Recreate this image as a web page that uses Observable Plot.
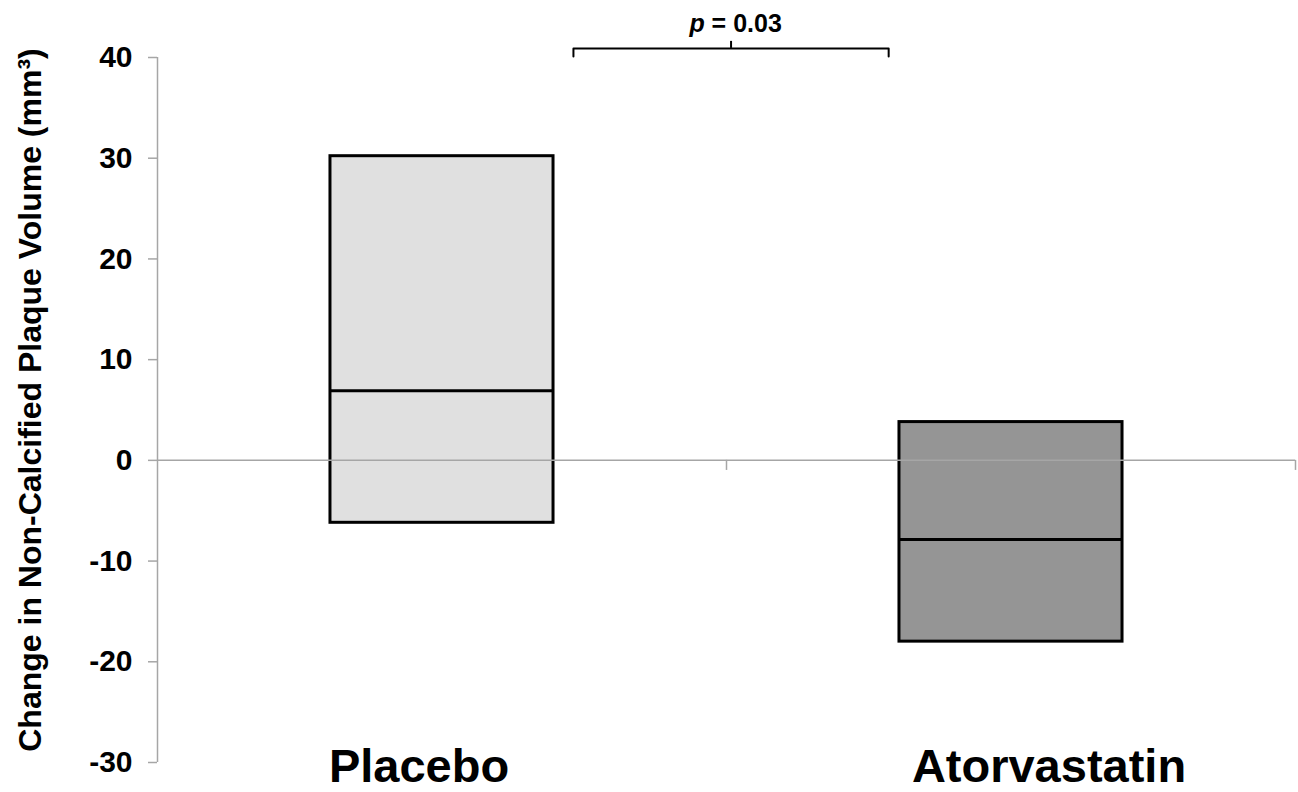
<!DOCTYPE html>
<html>
<head>
<meta charset="utf-8">
<script src="https://cdn.jsdelivr.net/npm/d3@7"></script>
<script src="https://cdn.jsdelivr.net/npm/@observablehq/plot@0.6"></script>
<style>
  html, body { margin: 0; padding: 0; background: #fff; }
  svg { font-family: "Liberation Sans", Arial, sans-serif; }
</style>
</head>
<body>
<div id="chart"></div>
<script>
// ---- data ----
const categories = ["Placebo", "Atorvastatin"];
const lowerQuartile = [-6.2, -18.0];
const medianValue = [6.9, -7.85];
const upperQuartile = [30.2, 3.8];
const fills = ["#e0e0e0", "#959595"];
const yTicks = [-30, -20, -10, 0, 10, 20, 30, 40];
const yTitle = "Change in Non-Calcified Plaque Volume (mm³)";
const pLabel = "p = 0.03";
const boundaries = [1, 2];

const rows = categories.map((c, i) => ({
  cat: c, i, q1: lowerQuartile[i], med: medianValue[i], q3: upperQuartile[i], fill: fills[i]
}));

const half = 0.196; // box half-width in category units
const axisGray = "#a6a6a6";
const font = "Liberation Sans, Arial, sans-serif";

const chart = Plot.plot({
  width: 1298,
  height: 792,
  marginLeft: 157,
  marginRight: 3,
  marginTop: 57,
  marginBottom: 30,
  style: { fontFamily: font, background: "#fff", overflow: "visible" },
  x: { domain: [0, 2], axis: null },
  y: { domain: [-30, 40], axis: null },
  marks: [
    Plot.rect(rows, {
      x1: d => d.i + 0.5 - half, x2: d => d.i + 0.5 + half,
      y1: "q1", y2: "q3", fill: "fill", stroke: "black", strokeWidth: 3
    }),
    Plot.ruleY(rows, {
      y: "med", x1: d => d.i + 0.5 - half, x2: d => d.i + 0.5 + half,
      stroke: "black", strokeWidth: 3
    }),
    // zero line with category boundary ticks
    Plot.ruleY([0], { stroke: axisGray, strokeWidth: 1.5 }),
    Plot.ruleX(boundaries, { y1: 0, y2: -1, stroke: axisGray, strokeWidth: 1.5 }),
    // y axis
    Plot.ruleX([0], { stroke: axisGray, strokeWidth: 1.5 }),
    Plot.axisY({
      ticks: yTicks, tickSize: 9, tickPadding: 16, stroke: axisGray, strokeWidth: 1.5,
      fill: "black", fontSize: 30, fontWeight: "bold", label: null, tickFormat: d => String(d)
    }),
    Plot.text([yTitle], {
      frameAnchor: "left", textAnchor: "middle", rotate: -90, dx: -127, dy: -10,
      fontSize: 32, fontWeight: "bold", fill: "black", lineAnchor: "middle"
    }),
    // category labels
    Plot.text([categories[0]], {
      x: 0.5, y: -30, dx: -23, dy: 4, fontSize: 47, fontWeight: "bold", fill: "black", lineAnchor: "middle"
    }),
    Plot.text([categories[1]], {
      x: 1.5, y: -30, dx: 38, dy: 4, fontSize: 47, fontWeight: "bold", fill: "black", lineAnchor: "middle"
    }),
    // significance bracket
    Plot.line([[0.731, 40.1], [0.731, 40.9], [1.285, 40.9], [1.285, 40.1]], {
      stroke: "black", strokeWidth: 2, clip: false
    }),
    Plot.ruleX([1.008], { y1: 40.9, y2: 41.6, stroke: "black", strokeWidth: 2 }),
    Plot.text([pLabel], {
      x: 1.016, y: 43.3, fontSize: 25, fontWeight: "bold", fill: "black",
      lineAnchor: "middle", className: "plabel"
    })
  ]
});

document.getElementById("chart").appendChild(chart);

// italicize the "p"
d3.select(chart).selectAll(".plabel text").each(function () {
  const t = d3.select(this);
  t.text(null);
  t.append("tspan").attr("font-style", "italic").text("p");
  t.append("tspan").text(" = 0.03");
});
</script>
</body>
</html>
